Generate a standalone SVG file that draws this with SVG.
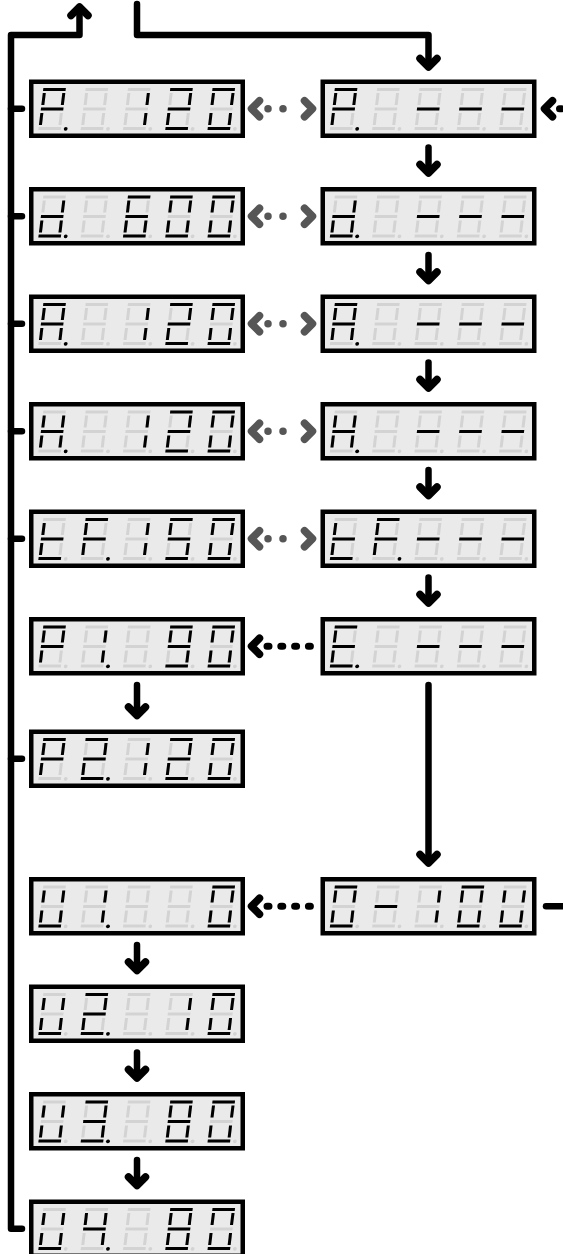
<svg xmlns="http://www.w3.org/2000/svg" width="563" height="1254" viewBox="0 0 563 1254">
<style>
.on{stroke:#000;fill:#000}
.k{fill:none;stroke:#000;stroke-width:6.5;stroke-linecap:round;stroke-linejoin:round}
.h{fill:none;stroke:#000;stroke-width:7.5;stroke-linecap:round;stroke-linejoin:round}
.g{fill:none;stroke:#565656;stroke-width:7.5;stroke-linecap:round;stroke-linejoin:round}
.gdot{fill:none;stroke:#565656;stroke-width:7.5;stroke-linecap:round;stroke-dasharray:0 15}
.kdot{fill:none;stroke:#000;stroke-width:7;stroke-linecap:round;stroke-dasharray:2 11.8}
</style>
<defs>
<path id="sa" d="M0,10H22.5" stroke-width="3"/>
<path id="sb" d="M21,13.5V25.5" stroke-width="3"/>
<path id="sc" d="M21,33.5V45.5" stroke-width="3"/>
<path id="sd" d="M0,49H22.5" stroke-width="3"/>
<path id="se" d="M1.5,33.5V45.5" stroke-width="3"/>
<path id="sf" d="M1.5,13.5V25.5" stroke-width="3"/>
<path id="sg" d="M0,29.5H22.5" stroke-width="3"/>
<circle id="sp" cx="27.2" cy="49.3" r="1.9" stroke="none"/>
<g id="g8"><use href="#sa"/><use href="#sb"/><use href="#sc"/><use href="#sd"/><use href="#se"/><use href="#sf"/><use href="#sg"/></g>
<g id="gall"><use href="#g8"/><use href="#sp"/></g>
<g id="gP"><use href="#sa"/><use href="#sb"/><use href="#sf"/><use href="#sg"/><use href="#se"/></g>
<g id="gd"><use href="#sb"/><use href="#sc"/><use href="#sd"/><use href="#se"/><use href="#sg"/></g>
<g id="gA"><use href="#sa"/><use href="#sb"/><use href="#sc"/><use href="#se"/><use href="#sf"/><use href="#sg"/></g>
<g id="gH"><use href="#sb"/><use href="#sc"/><use href="#se"/><use href="#sf"/><use href="#sg"/></g>
<g id="gt"><use href="#sd"/><use href="#se"/><use href="#sf"/><use href="#sg"/></g>
<g id="gF"><use href="#sa"/><use href="#se"/><use href="#sf"/><use href="#sg"/></g>
<g id="gE"><use href="#sa"/><use href="#sd"/><use href="#se"/><use href="#sf"/><use href="#sg"/></g>
<g id="gU"><use href="#sb"/><use href="#sc"/><use href="#sd"/><use href="#se"/><use href="#sf"/></g>
<g id="g0"><use href="#sa"/><use href="#sb"/><use href="#sc"/><use href="#sd"/><use href="#se"/><use href="#sf"/></g>
<g id="g1"><use href="#sb"/><use href="#sc"/></g>
<g id="g2"><use href="#sa"/><use href="#sb"/><use href="#sd"/><use href="#se"/><use href="#sg"/></g>
<g id="g3"><use href="#sa"/><use href="#sb"/><use href="#sc"/><use href="#sd"/><use href="#sg"/></g>
<g id="g4"><use href="#sb"/><use href="#sc"/><use href="#sf"/><use href="#sg"/></g>
<g id="g5"><use href="#sa"/><use href="#sc"/><use href="#sd"/><use href="#sf"/><use href="#sg"/></g>
<g id="g6"><use href="#sa"/><use href="#sc"/><use href="#sd"/><use href="#se"/><use href="#sf"/><use href="#sg"/></g>
<g id="g9"><use href="#sa"/><use href="#sb"/><use href="#sc"/><use href="#sd"/><use href="#sf"/><use href="#sg"/></g>
<g id="gm"><use href="#sg"/></g>
<g id="frame">
<rect x="2.25" y="2.25" width="211.5" height="54" fill="#eaeaea" stroke="#000" stroke-width="4.5"/>
<g transform="skewX(-6.84)" stroke="#d3d3d3" fill="#d3d3d3">
<use href="#gall" x="15.4"/><use href="#gall" x="57.7"/><use href="#gall" x="100"/><use href="#gall" x="142.3"/><use href="#gall" x="184.6"/>
</g>
</g>
</defs>

<g id="connectors">
<path class="k" d="M22,1228.75H11V35H79.5V8"/>
<path class="h" d="M71,15.5L79.5,7L88,15.5"/>
<path class="k" d="M11,108.75H22M11,216.25H22M11,323.75H22M11,431.25H22M11,538.75H22M11,758.75H22"/>
<path class="k" d="M137,4V35H428.5V66"/>
<path class="h" d="M420,58.5L428.5,67L437,58.5"/>
<path class="k" d="M428.5,147.5V172"/><path class="h" d="M420,164.5L428.5,173L437,164.5"/>
<path class="k" d="M428.5,255V279.5"/><path class="h" d="M420,272L428.5,280.5L437,272"/>
<path class="k" d="M428.5,362.5V387"/><path class="h" d="M420,379.5L428.5,388L437,379.5"/>
<path class="k" d="M428.5,470V494.5"/><path class="h" d="M420,487L428.5,495.5L437,487"/>
<path class="k" d="M428.5,577.5V602"/><path class="h" d="M420,594.5L428.5,603L437,594.5"/>
<path class="k" d="M428.5,685V862"/><path class="h" d="M420,854.5L428.5,863L437,854.5"/>
<path class="k" d="M137,685V714.5"/><path class="h" d="M128.5,707L137,715.5L145.5,707"/>
<path class="k" d="M137,945V969.5"/><path class="h" d="M128.5,962L137,970.5L145.5,962"/>
<path class="k" d="M137,1052.5V1077"/><path class="h" d="M128.5,1069.5L137,1078L145.5,1069.5"/>
<path class="k" d="M137,1160V1184.5"/><path class="h" d="M128.5,1177L137,1185.5L145.5,1177"/>
<path class="g" d="M259.5,100.75L251.5,108.75L259.5,116.75M304.5,100.75L312.5,108.75L304.5,116.75"/>
<path class="gdot" d="M268,108.75H298"/>
<path class="g" d="M259.5,208.25L251.5,216.25L259.5,224.25M304.5,208.25L312.5,216.25L304.5,224.25"/>
<path class="gdot" d="M268,216.25H298"/>
<path class="g" d="M259.5,315.75L251.5,323.75L259.5,331.75M304.5,315.75L312.5,323.75L304.5,331.75"/>
<path class="gdot" d="M268,323.75H298"/>
<path class="g" d="M259.5,423.25L251.5,431.25L259.5,439.25M304.5,423.25L312.5,431.25L304.5,439.25"/>
<path class="gdot" d="M268,431.25H298"/>
<path class="g" d="M259.5,530.75L251.5,538.75L259.5,546.75M304.5,530.75L312.5,538.75L304.5,546.75"/>
<path class="gdot" d="M268,538.75H298"/>
<path class="h" d="M259.5,638.25L251.5,646.25L259.5,654.25"/>
<path class="kdot" d="M267,646.25H311"/>
<path class="h" d="M259.5,898.25L251.5,906.25L259.5,914.25"/>
<path class="kdot" d="M267,906.25H311"/>
<path class="h" d="M552.5,100.75L544.5,108.75L552.5,116.75"/>
<path class="kdot" d="M559.5,108.75H580"/>
<path class="k" d="M546,906.25H580"/>
</g>

<g id="disp-P-120" transform="translate(29,79.5)"><use href="#frame"/>
<g class="on" transform="skewX(-6.84)"><use href="#gP" x="15.4"/><use href="#sp" x="15.4"/><use href="#g1" x="100"/><use href="#g2" x="142.3"/><use href="#g0" x="184.6"/></g></g>
<g id="disp-d-600" transform="translate(29,187)"><use href="#frame"/>
<g class="on" transform="skewX(-6.84)"><use href="#gd" x="15.4"/><use href="#sp" x="15.4"/><use href="#g6" x="100"/><use href="#g0" x="142.3"/><use href="#g0" x="184.6"/></g></g>
<g id="disp-A-120" transform="translate(29,294.5)"><use href="#frame"/>
<g class="on" transform="skewX(-6.84)"><use href="#gA" x="15.4"/><use href="#sp" x="15.4"/><use href="#g1" x="100"/><use href="#g2" x="142.3"/><use href="#g0" x="184.6"/></g></g>
<g id="disp-H-120" transform="translate(29,402)"><use href="#frame"/>
<g class="on" transform="skewX(-6.84)"><use href="#gH" x="15.4"/><use href="#sp" x="15.4"/><use href="#g1" x="100"/><use href="#g2" x="142.3"/><use href="#g0" x="184.6"/></g></g>
<g id="disp-tF-150" transform="translate(29,509.5)"><use href="#frame"/>
<g class="on" transform="skewX(-6.84)"><use href="#gt" x="15.4"/><use href="#gF" x="57.7"/><use href="#sp" x="57.7"/><use href="#g1" x="100"/><use href="#g5" x="142.3"/><use href="#g0" x="184.6"/></g></g>
<g id="disp-P1-90" transform="translate(29,617)"><use href="#frame"/>
<g class="on" transform="skewX(-6.84)"><use href="#gP" x="15.4"/><use href="#g1" x="57.7"/><use href="#sp" x="57.7"/><use href="#g9" x="142.3"/><use href="#g0" x="184.6"/></g></g>
<g id="disp-P2-120" transform="translate(29,729.5)"><use href="#frame"/>
<g class="on" transform="skewX(-6.84)"><use href="#gP" x="15.4"/><use href="#g2" x="57.7"/><use href="#sp" x="57.7"/><use href="#g1" x="100"/><use href="#g2" x="142.3"/><use href="#g0" x="184.6"/></g></g>
<g id="disp-U1-0" transform="translate(29,877)"><use href="#frame"/>
<g class="on" transform="skewX(-6.84)"><use href="#gU" x="15.4"/><use href="#g1" x="57.7"/><use href="#sp" x="57.7"/><use href="#g0" x="184.6"/></g></g>
<g id="disp-U2-10" transform="translate(29,984.5)"><use href="#frame"/>
<g class="on" transform="skewX(-6.84)"><use href="#gU" x="15.4"/><use href="#g2" x="57.7"/><use href="#sp" x="57.7"/><use href="#g1" x="142.3"/><use href="#g0" x="184.6"/></g></g>
<g id="disp-U3-80" transform="translate(29,1092)"><use href="#frame"/>
<g class="on" transform="skewX(-6.84)"><use href="#gU" x="15.4"/><use href="#g3" x="57.7"/><use href="#sp" x="57.7"/><use href="#g8" x="142.3"/><use href="#g0" x="184.6"/></g></g>
<g id="disp-U4-80" transform="translate(29,1199.5)"><use href="#frame"/>
<g class="on" transform="skewX(-6.84)"><use href="#gU" x="15.4"/><use href="#g4" x="57.7"/><use href="#sp" x="57.7"/><use href="#g8" x="142.3"/><use href="#g0" x="184.6"/></g></g>

<g id="disp-P-dash" transform="translate(320.5,79.5)"><use href="#frame"/>
<g class="on" transform="skewX(-6.84)"><use href="#gP" x="15.4"/><use href="#sp" x="15.4"/><use href="#gm" x="100"/><use href="#gm" x="142.3"/><use href="#gm" x="184.6"/></g></g>
<g id="disp-d-dash" transform="translate(320.5,187)"><use href="#frame"/>
<g class="on" transform="skewX(-6.84)"><use href="#gd" x="15.4"/><use href="#sp" x="15.4"/><use href="#gm" x="100"/><use href="#gm" x="142.3"/><use href="#gm" x="184.6"/></g></g>
<g id="disp-A-dash" transform="translate(320.5,294.5)"><use href="#frame"/>
<g class="on" transform="skewX(-6.84)"><use href="#gA" x="15.4"/><use href="#sp" x="15.4"/><use href="#gm" x="100"/><use href="#gm" x="142.3"/><use href="#gm" x="184.6"/></g></g>
<g id="disp-H-dash" transform="translate(320.5,402)"><use href="#frame"/>
<g class="on" transform="skewX(-6.84)"><use href="#gH" x="15.4"/><use href="#sp" x="15.4"/><use href="#gm" x="100"/><use href="#gm" x="142.3"/><use href="#gm" x="184.6"/></g></g>
<g id="disp-tF-dash" transform="translate(320.5,509.5)"><use href="#frame"/>
<g class="on" transform="skewX(-6.84)"><use href="#gt" x="15.4"/><use href="#gF" x="57.7"/><use href="#sp" x="57.7"/><use href="#gm" x="100"/><use href="#gm" x="142.3"/><use href="#gm" x="184.6"/></g></g>
<g id="disp-E-dash" transform="translate(320.5,617)"><use href="#frame"/>
<g class="on" transform="skewX(-6.84)"><use href="#gE" x="15.4"/><use href="#sp" x="15.4"/><use href="#gm" x="100"/><use href="#gm" x="142.3"/><use href="#gm" x="184.6"/></g></g>
<g id="disp-0-10U" transform="translate(320.5,877)"><use href="#frame"/>
<g class="on" transform="skewX(-6.84)"><use href="#g0" x="15.4"/><use href="#gm" x="57.7"/><use href="#g1" x="100"/><use href="#g0" x="142.3"/><use href="#gU" x="184.6"/></g></g>
</svg>
